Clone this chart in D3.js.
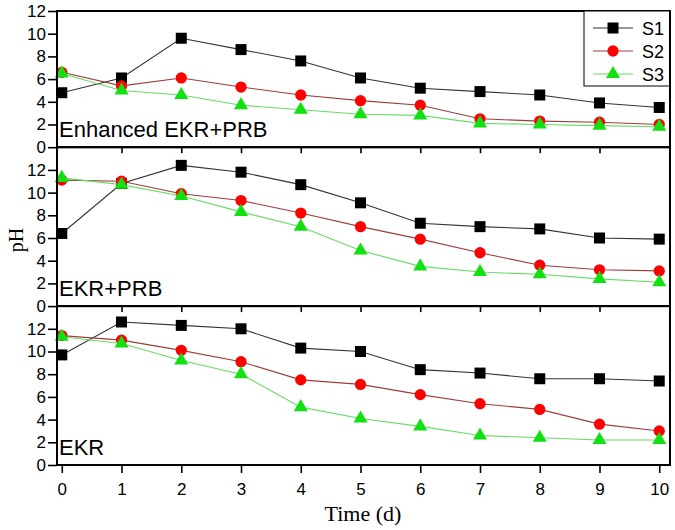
<!DOCTYPE html>
<html>
<head>
<meta charset="utf-8">
<script src="https://cdn.jsdelivr.net/npm/d3@7"></script>
<style>
  body { margin: 0; background: #fff; }
  svg { display: block; }
</style>
</head>
<body>
<svg id="chart" width="675" height="530"></svg>
<script>
// time in days
const days = [0, 1, 2, 3, 4, 5, 6, 7, 8, 9, 10];

const panelNames = ['Enhanced EKR+PRB', 'EKR+PRB', 'EKR'];
const seriesNames = ['S1', 'S2', 'S3'];
const yTicks = [0, 2, 4, 6, 8, 10, 12];

// pH values, one array per panel and series
const enhancedS1 = [4.8, 6.1, 9.6, 8.6, 7.6, 6.1, 5.2, 4.9, 4.6, 3.9, 3.5];
const enhancedS2 = [6.6, 5.4, 6.1, 5.3, 4.6, 4.1, 3.7, 2.5, 2.3, 2.2, 2.0];
const enhancedS3 = [6.5, 5.0, 4.6, 3.7, 3.3, 2.9, 2.8, 2.1, 2.0, 1.9, 1.8];

const ekrPrbS1 = [6.4, 10.8, 12.4, 11.8, 10.7, 9.1, 7.3, 7.0, 6.8, 6.0, 5.9];
const ekrPrbS2 = [11.1, 11.0, 9.9, 9.3, 8.2, 7.0, 5.9, 4.7, 3.6, 3.2, 3.1];
const ekrPrbS3 = [11.3, 10.7, 9.7, 8.3, 7.0, 4.9, 3.5, 3.0, 2.8, 2.4, 2.1];

const ekrS1 = [9.7, 12.6, 12.3, 12.0, 10.3, 10.0, 8.4, 8.1, 7.6, 7.6, 7.4];
const ekrS2 = [11.4, 11.0, 10.1, 9.1, 7.5, 7.1, 6.2, 5.4, 4.9, 3.6, 3.0];
const ekrS3 = [11.3, 10.7, 9.2, 8.0, 5.1, 4.1, 3.4, 2.6, 2.4, 2.2, 2.2];

const panelSeries = [
    [enhancedS1, enhancedS2, enhancedS3],
    [ekrPrbS1, ekrPrbS2, ekrPrbS3],
    [ekrS1, ekrS2, ekrS3]
];
const panelMax = [12, 14, 14];

// styles
const markerFill = ['#000000', '#ff0000', '#11e011'];
const lineColor = ['#333333', '#a03c3c', '#66dd66'];
const markerType = [d3.symbolSquare, d3.symbolCircle, d3.symbolTriangle];
const markerSize = [121, 100, 85];

const sans = 'Liberation Sans, Arial, sans-serif';
const serif = 'Liberation Serif, Times New Roman, serif';

const plotLeft = 57, plotRight = 670, plotTop = 11;
const unit = 11.35;

const svg = d3.select('#chart');
svg.append('rect').attr('width', 675).attr('height', 530).attr('fill', '#fff');

const x = d3.scaleLinear().domain([-0.08, 10.18]).range([plotLeft, plotRight]);

let yStart = plotTop;
const panels = panelNames.map(function(name, i) {
    const h = panelMax[i] * unit;
    const p = {name: name, top: yStart, bottom: yStart + h,
        y: d3.scaleLinear().domain([0, panelMax[i]]).range([yStart + h, yStart])};
    yStart += h;
    return p;
});
const plotBottom = panels[panels.length - 1].bottom;

panels.forEach(function(p, i) {
    const g = svg.append('g');

    // left axis
    const ya = g.append('g')
        .attr('transform', 'translate(' + plotLeft + ',0)')
        .call(d3.axisLeft(p.y).tickValues(yTicks).tickSize(9).tickPadding(2).tickSizeOuter(0));
    ya.select('.domain').remove();
    ya.selectAll('line').attr('stroke', '#000').attr('stroke-width', 1.6);
    ya.selectAll('text').attr('font-family', sans).attr('font-size', 17).attr('fill', '#000');

    // bottom axis
    const last = i === panels.length - 1;
    const xa = g.append('g')
        .attr('transform', 'translate(0,' + p.bottom + ')')
        .call(d3.axisBottom(x)
            .tickValues(last ? days : days.slice(1, 10))
            .tickSize(last ? 8 : 6).tickPadding(10).tickSizeOuter(0)
            .tickFormat(last ? d3.format('d') : ''));
    xa.select('.domain').remove();
    xa.selectAll('line').attr('stroke', '#000').attr('stroke-width', 1.6);
    xa.selectAll('text').attr('font-family', sans).attr('font-size', 17).attr('fill', '#000');

    // series
    panelSeries[i].forEach(function(values, s) {
        const pts = values.map(function(v, k) { return [days[k], v]; });
        g.append('path')
            .datum(pts)
            .attr('fill', 'none')
            .attr('stroke', lineColor[s])
            .attr('stroke-width', 1.1)
            .attr('d', d3.line()
                .x(function(d) { return x(d[0]); })
                .y(function(d) { return p.y(d[1]); }));
        g.selectAll('.m' + s)
            .data(pts)
            .enter()
            .append('path')
            .attr('class', 'm' + s)
            .attr('transform', function(d) {
                return 'translate(' + x(d[0]) + ',' + p.y(d[1]) + ')';
            })
            .attr('d', d3.symbol().type(markerType[s]).size(markerSize[s]))
            .attr('fill', markerFill[s]);
    });

    g.append('text')
        .attr('x', plotLeft + 2)
        .attr('y', p.bottom - 10)
        .attr('font-family', sans)
        .attr('font-size', 22)
        .text(p.name);

    // panel frame
    g.append('rect')
        .attr('x', plotLeft).attr('y', p.top)
        .attr('width', plotRight - plotLeft).attr('height', p.bottom - p.top)
        .attr('fill', 'none').attr('stroke', '#000').attr('stroke-width', 2);
});

// legend
const lg = svg.append('g');
lg.append('rect')
    .attr('x', 584).attr('y', plotTop)
    .attr('width', plotRight - 584).attr('height', 75)
    .attr('fill', '#fff').attr('stroke', '#000').attr('stroke-width', 1);
seriesNames.forEach(function(name, s) {
    const ly = 28 + s * 23;
    lg.append('line')
        .attr('x1', 593).attr('x2', 633).attr('y1', ly).attr('y2', ly)
        .attr('stroke', lineColor[s]).attr('stroke-width', 1.1);
    lg.append('path')
        .attr('transform', 'translate(613,' + ly + ')')
        .attr('d', d3.symbol().type(markerType[s]).size(markerSize[s]))
        .attr('fill', markerFill[s]);
    lg.append('text')
        .attr('x', 642).attr('y', ly + 6.5)
        .attr('font-family', sans).attr('font-size', 18)
        .text(name);
});
// redraw the right frame edge over the legend box
svg.append('line')
    .attr('x1', plotRight).attr('x2', plotRight).attr('y1', plotTop).attr('y2', plotBottom)
    .attr('stroke', '#000').attr('stroke-width', 2);

// axis titles
svg.append('text')
    .attr('x', 363).attr('y', 521)
    .attr('text-anchor', 'middle')
    .attr('font-family', serif).attr('font-size', 22)
    .text('Time (d)');
svg.append('text')
    .attr('transform', 'translate(23,240) rotate(-90)')
    .attr('text-anchor', 'middle')
    .attr('font-family', serif).attr('font-size', 20)
    .text('pH');
</script>
</body>
</html>
